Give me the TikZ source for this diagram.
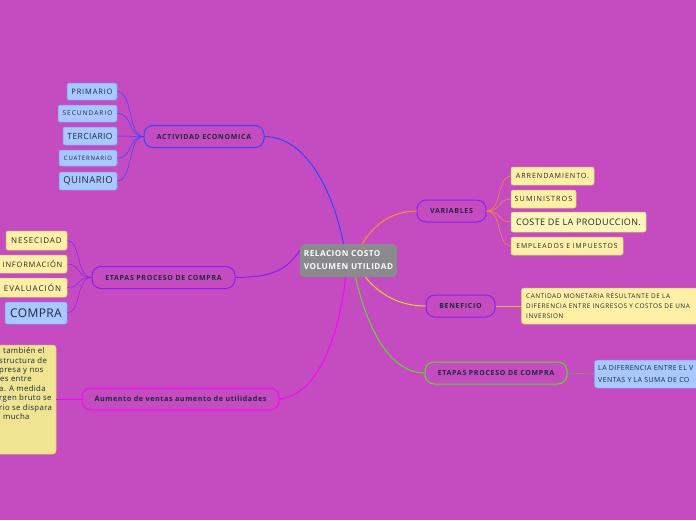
\documentclass[tikz,border=0pt]{standalone}
\usepackage{fontspec}
\setmainfont{Open Sans}
\usetikzlibrary{calc}
\definecolor{bg}{RGB}{196,76,192}
\definecolor{cgray}{RGB}{138,138,140}
\definecolor{dtext}{RGB}{30,40,60}
\definecolor{cblue}{RGB}{50,70,255}
\definecolor{cpurple}{RGB}{140,30,240}
\definecolor{cmag}{RGB}{255,0,255}
\definecolor{corange}{RGB}{255,140,60}
\definecolor{cyellow}{RGB}{230,210,40}
\definecolor{cgreen}{RGB}{90,220,40}
\definecolor{lblue}{RGB}{168,200,255}
\definecolor{lbluedraw}{RGB}{120,150,250}
\definecolor{lyellow}{RGB}{255,240,165}
\definecolor{lyellow2}{RGB}{255,246,185}
\definecolor{lydraw}{RGB}{220,200,110}
\definecolor{khaki}{RGB}{238,228,145}
\tikzset{
  fs/.style 2 args={font=\fontsize{#1}{#1}\selectfont\addfontfeature{LetterSpace=#2}},
  fsb/.style 2 args={font=\bfseries\fontsize{#1}{#1}\selectfont\addfontfeature{LetterSpace=#2}},
  branch/.style={draw=#1, line width=1pt, rounded corners=9pt, fill=bg, text=dtext,
     fsb={7}{10}, inner sep=0pt, minimum height=22pt},
  bleaf/.style={draw=lbluedraw, fill=lblue, line width=0.5pt, rounded corners=2pt, text=dtext, inner sep=0pt},
  yleaf/.style={draw=lydraw, fill=lyellow, line width=0.5pt, rounded corners=2pt, text=dtext, inner sep=0pt},
  conn/.style={draw=#1, line width=1pt},
  sconn/.style={draw=#1, line width=0.5pt},
}
\begin{document}
\begin{tikzpicture}[x=1pt,y=-1pt]
\clip (0,0) rectangle (696,520);
\fill[bg] (0,0) rectangle (696,520);

% central
\node[fill=cgray, rounded corners=4pt, minimum width=97pt, minimum height=33pt, inner sep=0pt,
  text=white, font=\bfseries\fontsize{8.2}{13}\selectfont\addfontfeature{LetterSpace=6}, align=left] (c) at (348.5,260.5)
  {RELACION COSTO\\VOLUMEN UTILIDAD};

% branches
\node[branch=cblue, minimum width=120pt] (act) at (204,136.5) {ACTIVIDAD ECONOMICA};
\node[branch=cpurple, minimum width=143pt] (etl) at (163.5,277.5) {ETAPAS PROCESO DE COMPRA};
\node[branch=cmag, minimum width=197pt, fsb={7.2}{8}] (aum) at (180.5,399) {Aumento de ventas aumento de utilidades};
\node[branch=cpurple, minimum width=69pt] (var) at (451.5,211) {VARIABLES};
\node[branch=cpurple, minimum width=69pt] (ben) at (460.5,306) {BENEFICIO};
\node[branch=cgreen, minimum width=142pt] (etr) at (496,373) {ETAPAS PROCESO DE COMPRA};

% actividad leaves
\node[bleaf, minimum width=50pt, minimum height=17pt, fs={7.5}{11}] (pri) at (92,91.5) {PRIMARIO};
\node[bleaf, minimum width=59pt, minimum height=17pt, fs={6.5}{16}] (sec) at (87.5,113.5) {SECUNDARIO};
\node[bleaf, minimum width=54pt, minimum height=18pt, fs={8.5}{4.5}] (ter) at (90,136) {TERCIARIO};
\node[bleaf, minimum width=58pt, minimum height=16pt, fs={6}{13}] (cua) at (88,158) {CUATERNARIO};
\node[bleaf, minimum width=58pt, minimum height=18pt, fs={9.5}{5}] (qui) at (88,181) {QUINARIO};

% etapas left leaves
\node[yleaf, minimum width=61pt, minimum height=19pt, fs={8}{11.5}] (nes) at (36.5,240.5) {NESECIDAD};
\node[yleaf, minimum width=69pt, minimum height=18pt, fs={7.5}{10.5}] (inf) at (32.5,264) {INFORMACIÓN};
\node[yleaf, minimum width=69pt, minimum height=19pt, fs={8}{12.5}] (eva) at (32.5,287.5) {EVALUACIÓN};
\node[bleaf, minimum width=62pt, minimum height=22pt, fs={12}{3}] (com) at (36,313) {COMPRA};

% khaki box
\node[draw=lydraw, fill=khaki, line width=0.5pt, rounded corners=3pt, minimum width=76pt, minimum height=109pt, inner sep=0pt] (kh) at (18,399.5) {};
\node[anchor=north west, align=left, text=dtext, font=\fontsize{7.8}{9.4}\selectfont\addfontfeature{LetterSpace=4.5}, inner sep=0pt] (kht) at (-1,347.5)
{\hspace{4pt}también el\\structura de\\presa y nos\\\hspace{1pt}es entre\\a. A medida\\rgen bruto se\\rio se dispara\\\hspace{4pt}mucha};

% variables leaves
\node[yleaf, minimum width=83pt, minimum height=18pt, fs={7.2}{12.5}] (arr) at (552.5,176) {ARRENDAMIENTO.};
\node[yleaf, minimum width=65pt, minimum height=18pt, fs={7.2}{14.5}] (sum) at (543.5,199) {SUMINISTROS};
\node[yleaf, fill=lyellow2, minimum width=135pt, minimum height=20pt, fs={9}{4.3}] (cos) at (578.5,222) {COSTE DE LA PRODUCCION.};
\node[yleaf, minimum width=112pt, minimum height=18pt, fs={6.8}{14}] (emp) at (567,246) {EMPLEADOS E IMPUESTOS};

% beneficio leaf
\node[yleaf, anchor=west, minimum width=200pt, minimum height=36pt, rounded corners=3pt] (can) at (521,306) {};
\node[anchor=west, align=left, text=dtext, font=\fontsize{6.4}{10}\selectfont\addfontfeature{LetterSpace=8.4}, inner sep=0pt] (cant) at (526,306)
{CANTIDAD MONETARIA RESULTANTE DE LA\\DIFERENCIA ENTRE INGRESOS Y COSTOS DE UNA\\INVERSION};

% etapas right leaf
\node[bleaf, anchor=west, minimum width=200pt, minimum height=28pt, rounded corners=3pt] (dif) at (594,374) {};
\node[anchor=west, align=left, text=dtext, font=\fontsize{7}{12.5}\selectfont\addfontfeature{LetterSpace=6}, inner sep=0pt] (dift) at (598,374)
{LA DIFERENCIA ENTRE EL V\\VENTAS Y LA SUMA DE CO};

% main connectors
\draw[conn=cblue] (act.east) .. controls (310,137) and (335,200) .. ($(c.north)+(-5,0)$);
\draw[conn=cpurple] (etl.east) .. controls (270,277) and (285,272) .. ($(c.west)+(0,-10)$);
\draw[conn=cmag] (aum.east) .. controls (320,395) and (340,330) .. ($(c.south)+(-3,0)$);
\draw[conn=corange] ($(c.north)+(14,0)$) .. controls (375,222) and (395,211) .. (var.west);
\draw[conn=cyellow] ($(c.south)+(17,0)$) .. controls (380,295) and (400,306) .. (ben.west);
\draw[conn=cgreen] ($(c.south)+(7,0)$) .. controls (370,340) and (395,373) .. (etr.west);

% child connectors
\foreach \n in {pri,sec,ter,cua,qui}
  \draw[sconn=cblue] (act.west) .. controls (128,136.5) and (133,0|-\n.east) .. (\n.east);
\foreach \n in {nes,inf,eva,com}
  \draw[sconn=cpurple] (etl.west) .. controls (76,277.5) and (81,0|-\n.east) .. (\n.east);
\foreach \n in {arr,sum,cos,emp}
  \draw[sconn=corange] (var.east) .. controls (502,211) and (497,0|-\n.west) .. (\n.west);
\draw[sconn=cmag] (aum.west) -- (kh.east |- aum.west);
\draw[sconn=cyellow!70!brown] (ben.east) -- (can.west);
\draw[sconn=cgreen!70!gray] (etr.east) -- (dif.west);
\end{tikzpicture}
\end{document}
